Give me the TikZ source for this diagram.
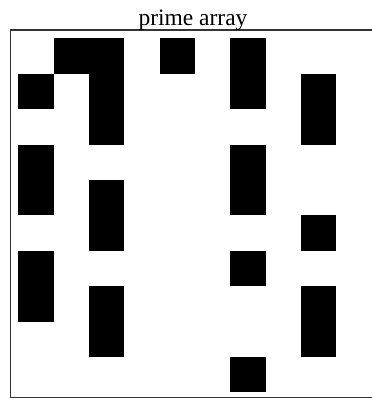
\documentclass[tikz,border=0pt]{standalone}
\usepackage{fontspec}
\setmainfont{Liberation Serif}
\usepackage{tikz}
\usetikzlibrary{positioning}

\begin{document}
\begin{tikzpicture}[
        x=1pt, y=-1pt,
        frame/.style={draw=black!80, line width=1.3pt},
        cell/.style={rectangle, fill=black, inner sep=0pt, minimum width=35.4pt, minimum height=35.4pt, anchor=north west},
        caption/.style={font=\fontsize{23.5}{26}\selectfont, inner sep=0pt, anchor=base},
    ]
        \useasboundingbox (0, 0) rectangle (372, 399);
        % Frame and title
        \draw[frame] (10.5, 30) rectangle (380, 397.5);
        \node[caption] (title) at (193, 25.5) {prime array};

        % Cells: n = 10*row + col + 1
        \foreach \n in {2,3,5,7,11,13,17,19,23,29,31,37,41,43,47,53,59,61,67,71,73,79,83,89,97} {
            \pgfmathtruncatemacro{\row}{(\n-1)/10}
            \pgfmathtruncatemacro{\col}{mod(\n-1,10)}
            \node[cell] (cell-\n) at (18 + 35.35*\col, 38.2 + 35.4*\row) {};
        }
    \end{tikzpicture}
\end{document}
